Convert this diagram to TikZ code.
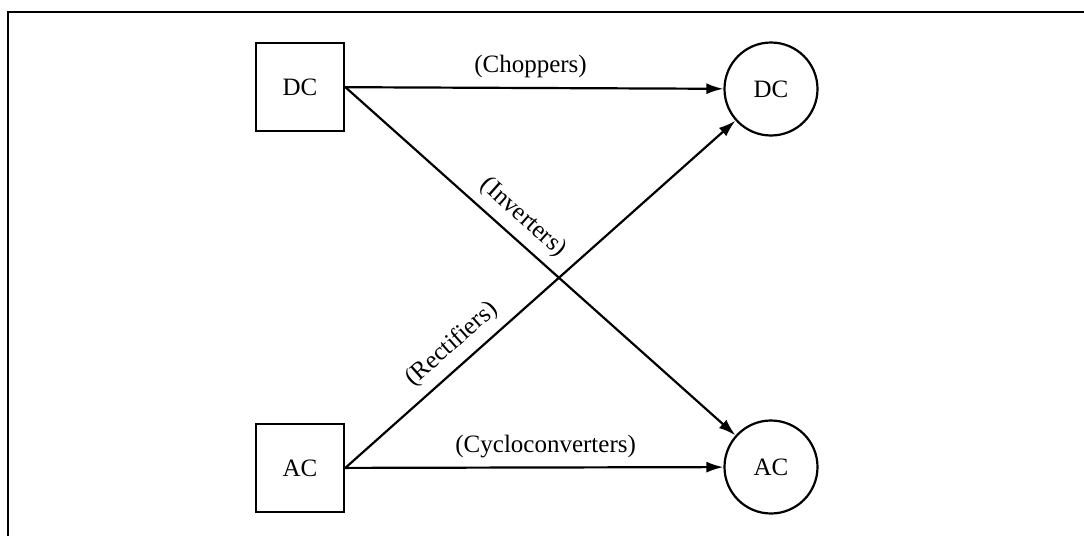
\documentclass[tikz,border=0pt]{standalone}
\usepackage{fontspec}
\setmainfont{Liberation Serif}
\usetikzlibrary{arrows.meta}
\begin{document}
\begin{tikzpicture}[x=0.5pt,y=-0.5pt,
    font=\fontsize{12.5}{14}\selectfont,
    srcbox/.style={draw,line width=1.2pt,minimum size=44pt,inner sep=0pt},
    dstcirc/.style={draw,circle,line width=1.1pt,minimum size=46.5pt,inner sep=0pt},
    conv/.style={line width=1.1pt,-{Latex[length=8.5pt,width=5.5pt]}}]
      \useasboundingbox (0,0) rectangle (1084,536);
      \draw[line width=1.3pt] (8,536) -- (8,12) -- (1084,12);
      \draw
        (300,87) node[srcbox] (dcin){DC}
        (300,468) node[srcbox] (acin){AC}
        (771,89) node[dstcirc] (dcout){DC}
        (771,467) node[dstcirc] (acout){AC};
      \begin{scope}[conv]
        \draw (dcin) to node[pos=0.49,above=1pt] {(Choppers)} (dcout);
        \draw (dcin.east) to node[pos=0.42,sloped,above=1pt] {(Inverters)} (acout);
        \draw (acin.east) to node[pos=0.31,sloped,above=1pt] {(Rectifiers)} (dcout);
        \draw (acin) to node[pos=0.53,above=1pt] {(Cycloconverters)} (acout);
      \end{scope}
    \end{tikzpicture}
\end{document}
